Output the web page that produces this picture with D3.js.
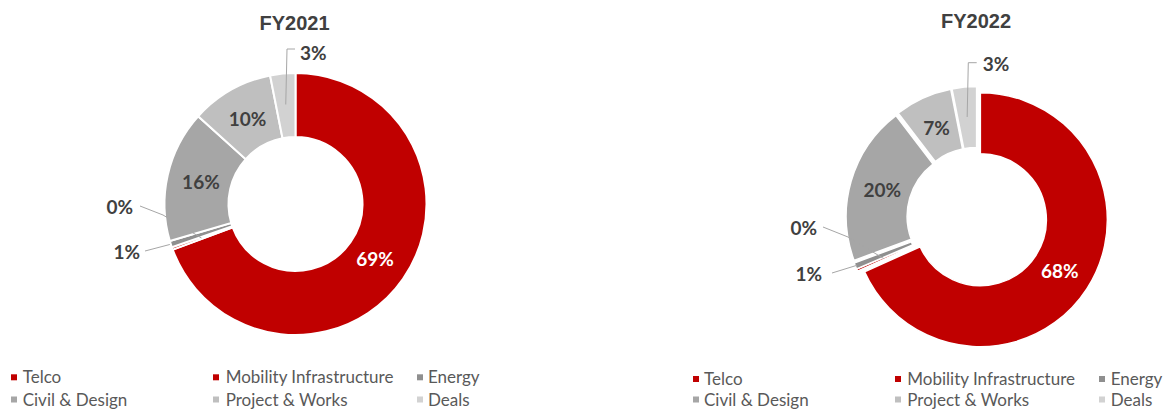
<!DOCTYPE html>
<html>
<head>
<meta charset="utf-8">
<script src="https://cdn.jsdelivr.net/npm/d3@7"></script>
<style>
  html, body { margin: 0; padding: 0; background: #ffffff; }
  svg { display: block; }
</style>
</head>
<body>
<svg id="chart" width="1166" height="410"></svg>
<script>
// ---------- data ----------
const categories = ["Telco", "Mobility Infrastructure", "Energy", "Civil & Design", "Project & Works", "Deals"];
const colors = ["#c00000", "#c00000", "#8f8f8f", "#a6a6a6", "#bfbfbf", "#d2d2d2"];
const fy2021 = [69.2, 0.3, 0.8, 16.2, 10.2, 3.1];
const fy2022 = [68.2, 0.3, 0.8, 20.2, 7.3, 3.1];
const titles = ["FY2021", "FY2022"];

// ---------- layout ----------
const charts = [
  {
    title: titles[0], values: fy2021,
    cx: 295.5, cy: 204, R: 131, r: 67, explode: 0, stroke: 2,
    titleY: 30,
    legend: { markerX: [11, 213, 417], textX: [22.7, 225.7, 428], rowY: [383.3, 405.5] },
    outside: {
      1: { tx: -162.5, ty: 3, anchor: "end", pts: [[-155.5, 2], [-132.5, 11]], endR: 100 },
      2: { tx: -155.5, ty: 48, anchor: "end", pts: [[-150.5, 47]], endR: 132 },
      5: { tx: 4.5, ty: -151, anchor: "start", pts: [[-0.5, -155], [-8.5, -155]], endR: 100 }
    }
  },
  {
    title: titles[1], values: fy2022,
    cx: 977, cy: 217.5, R: 127, r: 66, explode: 4, stroke: 1.5,
    titleY: 28,
    legend: { markerX: [693, 895, 1099], textX: [704, 907.3, 1110.7], rowY: [385, 405.5] },
    outside: {
      1: { tx: -160, ty: 10.5, anchor: "end", pts: [[-154, 9.5], [-129, 19.5]], endR: 98 },
      2: { tx: -155, ty: 56.5, anchor: "end", pts: [[-145, 55.5]], endR: 125 },
      5: { tx: 5.7, ty: -153.5, anchor: "start", pts: [[-0.3, -154.8], [-8.7, -154.8]], endR: 97 }
    }
  }
];

const svg = d3.select("#chart");
const labelFont = "Lato, 'Noto Sans', sans-serif";

charts.forEach(c => {
  const g = svg.append("g").attr("transform", `translate(${c.cx},${c.cy})`);
  const pie = d3.pie().sort(null).value(d => d.v);
  const data = pie(c.values.map((v, i) => ({ v, i })));
  const arc = d3.arc().innerRadius(c.r).outerRadius(c.R);
  const mid = d => (d.startAngle + d.endAngle) / 2;
  const off = d => [c.explode * Math.sin(mid(d)), -c.explode * Math.cos(mid(d))];

  g.selectAll("path.slice").data(data).enter().append("path")
    .attr("class", "slice")
    .attr("d", arc)
    .attr("transform", d => `translate(${off(d)[0]},${off(d)[1]})`)
    .attr("fill", d => colors[d.data.i])
    .attr("stroke", "#ffffff")
    .attr("stroke-width", c.stroke)
    .attr("stroke-linejoin", "miter");

  // inside labels
  const labelArc = d3.arc().innerRadius((c.R + c.r) / 2 - 2).outerRadius((c.R + c.r) / 2 - 2);
  data.filter(d => c.outside[d.data.i] === undefined).forEach(d => {
    const p = labelArc.centroid(d);
    const o = off(d);
    g.append("text")
      .attr("x", p[0] + o[0]).attr("y", p[1] + o[1])
      .attr("dy", "0.36em")
      .attr("text-anchor", "middle")
      .attr("font-family", labelFont)
      .attr("font-weight", "bold")
      .attr("font-size", 19)
      .attr("fill", d.data.i === 0 ? "#ffffff" : "#404040")
      .text(Math.round(d.data.v) + "%");
  });

  // outside labels with leader lines
  data.filter(d => c.outside[d.data.i] !== undefined).forEach(d => {
    const cfg = c.outside[d.data.i];
    const o = off(d);
    const a = mid(d);
    const end = [cfg.endR * Math.sin(a) + o[0], -cfg.endR * Math.cos(a) + o[1]];
    const pts = cfg.pts.concat([end]);
    g.append("path")
      .attr("d", d3.line()(pts))
      .attr("fill", "none")
      .attr("stroke", "#a6a6a6")
      .attr("stroke-width", 1);
    g.append("text")
      .attr("x", cfg.tx).attr("y", cfg.ty)
      .attr("dy", "0.36em")
      .attr("text-anchor", cfg.anchor)
      .attr("font-family", labelFont)
      .attr("font-weight", "bold")
      .attr("font-size", 19)
      .attr("fill", "#404040")
      .text(Math.round(d.data.v) + "%");
  });

  // title
  svg.append("text")
    .attr("x", c.cx - 1).attr("y", c.titleY)
    .attr("text-anchor", "middle")
    .attr("font-family", "'Liberation Sans', Arial, sans-serif")
    .attr("font-weight", "bold")
    .attr("font-size", 20)
    .attr("fill", "#404040")
    .text(c.title);

  // legend
  const lg = svg.append("g");
  categories.forEach((name, i) => {
    const col = i % 3, row = Math.floor(i / 3);
    const y = c.legend.rowY[row];
    lg.append("rect")
      .attr("x", c.legend.markerX[col]).attr("y", y - 9)
      .attr("width", 6).attr("height", 6)
      .attr("fill", colors[i]);
    lg.append("text")
      .attr("x", c.legend.textX[col]).attr("y", y)
      .attr("font-family", labelFont)
      .attr("font-size", 17)
      .attr("fill", "#595959")
      .text(name);
  });
});
</script>
</body>
</html>
